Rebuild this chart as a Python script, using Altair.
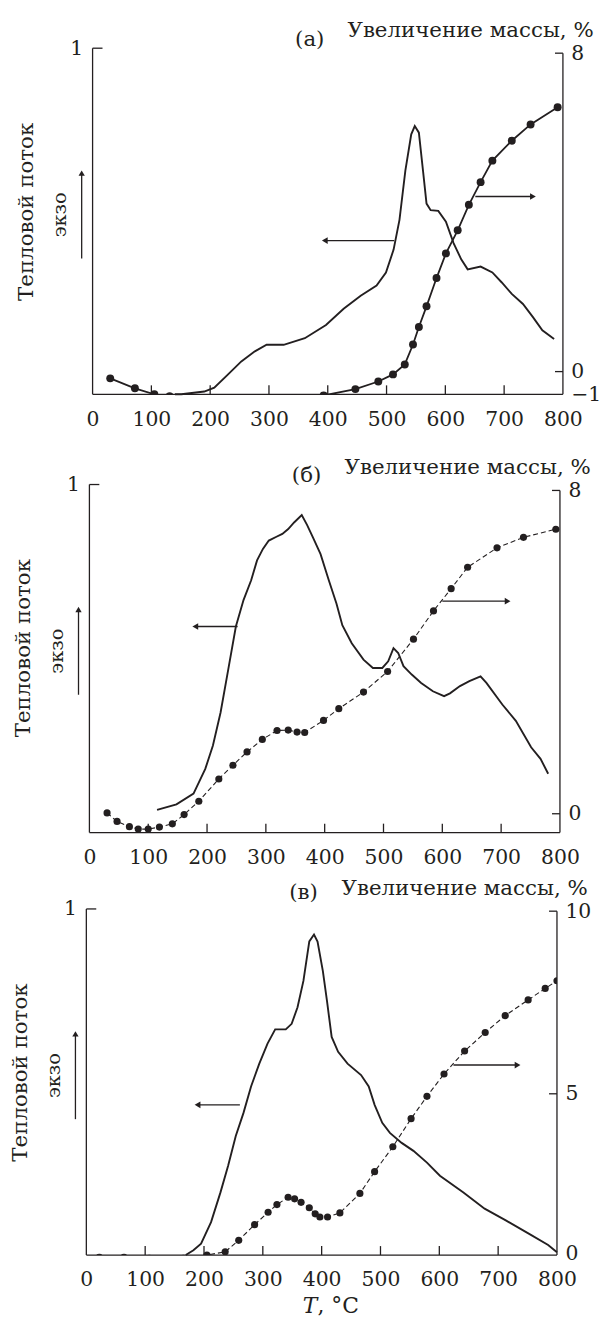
import altair as alt
import pandas as pd

FONT = "DejaVu Serif"
INK = "#231f20"
TICK_FS = 20.5
TITLE_FS = 21.5
EXO_FS = 19.5

X_LABELS = [0, 100, 200, 300, 400, 500, 600, 700, 800]
X_INNER = [100, 200, 300, 400, 500, 600, 700]

# ---------- panel (а) ----------
a_hf_T = [140, 151, 190, 207, 230, 253, 276, 296, 325, 361, 397, 427, 456, 483, 499, 512, 522,
          532, 542, 548, 555, 562, 568, 575, 588, 601, 614, 627, 638, 660, 680, 696, 713, 732,
          749, 765, 785]
a_hf_v = [0.0, 0.0, 0.008, 0.019, 0.057, 0.095, 0.124, 0.143, 0.143, 0.162, 0.2, 0.247, 0.285,
          0.314, 0.352, 0.418, 0.504, 0.646, 0.751, 0.775, 0.756, 0.646, 0.551, 0.532, 0.530,
          0.499, 0.437, 0.39, 0.361, 0.369, 0.352, 0.323, 0.29, 0.261, 0.223, 0.185, 0.16]
a_mg_T = [30, 72, 105, 131, 236, 279, 310, 343, 393, 447, 486, 511, 531, 545, 555, 568, 585,
          601, 621, 640, 660, 680, 713, 745, 791]
a_mg_v = [-0.17, -0.42, -0.57, -0.62, -0.68, -0.68, -0.68, -0.66, -0.6, -0.44, -0.25, -0.07,
          0.18, 0.68, 1.12, 1.64, 2.35, 2.97, 3.55, 4.19, 4.76, 5.30, 5.80, 6.21, 6.64]
a_arrow_hf = {"t1": [513], "t2": [395], "v": [0.444]}
a_arrow_mg = {"t1": [651], "t2": [749], "v": [4.40]}

# ---------- panel (б) ----------
b_hf_T = [115, 148, 177, 197, 210, 223, 236, 249, 262, 275, 285, 295, 305, 318, 328, 338, 348,
          361, 370, 380, 393, 407, 420, 430, 446, 466, 482, 498, 508, 517, 525, 534, 548, 564,
          584, 603, 613, 630, 646, 665, 675, 702, 725, 751, 767, 780]
b_hf_v = [0.065, 0.081, 0.112, 0.183, 0.25, 0.345, 0.468, 0.592, 0.668, 0.725, 0.782, 0.815,
          0.839, 0.85, 0.858, 0.872, 0.891, 0.912, 0.884, 0.848, 0.8, 0.725, 0.658, 0.596, 0.544,
          0.497, 0.473, 0.473, 0.492, 0.530, 0.516, 0.478, 0.454, 0.43, 0.406, 0.392, 0.4, 0.421,
          0.435, 0.449, 0.43, 0.368, 0.321, 0.245, 0.212, 0.169]
b_mg_T = [30, 47, 68, 83, 100, 119, 141, 161, 186, 220, 244, 268, 294, 319, 338, 353, 366, 398,
          424, 466, 507, 551, 585, 615, 643, 693, 738, 793]
b_mg_v = [0.02, -0.19, -0.32, -0.38, -0.38, -0.33, -0.25, -0.02, 0.31, 0.86, 1.20, 1.53, 1.84,
          2.06, 2.07, 2.02, 2.01, 2.31, 2.60, 3.01, 3.52, 4.32, 5.02, 5.57, 6.10, 6.58, 6.84, 7.04]
b_arrow_hf = {"t1": [252], "t2": [180], "v": [0.592]}
b_arrow_mg = {"t1": [600], "t2": [711], "v": [5.26]}

# ---------- panel (в) ----------
c_hf_T = [169, 182, 195, 212, 228, 241, 254, 267, 280, 294, 308, 321, 339, 349, 359, 369, 379,
          387, 393, 402, 409, 417, 428, 444, 467, 480, 490, 503, 516, 536, 556, 579, 601, 641,
          677, 713, 752, 785, 800]
c_hf_v = [0.0, 0.014, 0.033, 0.095, 0.181, 0.258, 0.344, 0.41, 0.487, 0.553, 0.611, 0.652,
          0.652, 0.668, 0.716, 0.792, 0.906, 0.926, 0.906, 0.821, 0.735, 0.63, 0.587, 0.553,
          0.52, 0.487, 0.434, 0.382, 0.353, 0.324, 0.301, 0.267, 0.229, 0.181, 0.134, 0.1,
          0.062, 0.029, 0.008]
c_mg_T = [22, 64, 107, 165, 205, 236, 259, 286, 309, 324, 343, 354, 365, 379, 389, 397, 410,
          431, 465, 490, 521, 552, 579, 608, 643, 678, 712, 751, 780, 800]
c_mg_v = [-0.12, -0.12, -0.15, -0.15, -0.05, 0.05, 0.41, 0.90, 1.29, 1.53, 1.76, 1.71, 1.60,
          1.43, 1.24, 1.14, 1.14, 1.27, 1.88, 2.56, 3.34, 4.22, 4.92, 5.62, 6.34, 6.92, 7.45,
          7.94, 8.30, 8.54]
c_arrow_hf = {"t1": [261], "t2": [189], "v": [0.434]}
c_arrow_mg = {"t1": [624], "t2": [733], "v": [5.9]}

RIGHT_TITLE = "Увеличение массы, %"
LEFT_TITLE = "Тепловой поток"
EXO = "экзо"


def text_layer(txt, x, y, **kw):
    return alt.Chart(pd.DataFrame({"t": [txt]})).mark_text(
        font=FONT, color=INK, **kw
    ).encode(text="t:N", x=alt.value(x), y=alt.value(y))


def build_panel(p):
    W, H, off, top = p["width"], p["height"], p["off"], p["top"]
    xs = alt.Scale(domain=[p["xmin"], 800], nice=False, zero=False)
    ly = alt.Scale(domain=p["ldom"], nice=False, zero=False)
    ry = alt.Scale(domain=p["rdom"], nice=False, zero=False)

    x_axis = alt.Axis(values=X_LABELS, labelFont=FONT, labelFontSize=TICK_FS, labelColor=INK,
                      ticks=False, domain=False, labelPadding=15, grid=False, title=None,
                      labelFlush=False, labelOverlap=False, format="d")
    left_axis = alt.Axis(values=[1], labelFont=FONT, labelFontSize=TICK_FS, labelColor=INK,
                         ticks=False, domain=False, labelPadding=10 - off, grid=False,
                         title=None, labelFlush=False, labelOverlap=False, format="d")
    raxis_kw = dict(orient="right", values=p["rvals"], labelFont=FONT, labelFontSize=TICK_FS,
                    labelColor=INK, ticks=False, domain=False, labelPadding=8, grid=False,
                    title=None, labelFlush=False, labelOverlap=False)
    if p.get("rexpr"):
        raxis_kw["labelExpr"] = p["rexpr"]
    right_axis = alt.Axis(**raxis_kw)

    def X(f):
        return alt.X(f, scale=xs, axis=x_axis)

    def YL(f):
        return alt.Y(f, scale=ly, axis=left_axis)

    def YR(f):
        return alt.Y(f, scale=ry, axis=right_axis)

    hf_df = pd.DataFrame({"T": p["hf_T"], "v": p["hf_v"]})
    mg_df = pd.DataFrame({"T": p["mg_T"], "v": p["mg_v"]})

    hf_line = alt.Chart(hf_df).mark_line(color=INK, strokeWidth=1.9).encode(
        x=X("T:Q"), y=YL("v:Q"))
    xline = alt.Chart(pd.DataFrame({"T": [0], "t2": [800], "v": [0]})).mark_rule(
        color=INK, strokeWidth=1.3).encode(x=X("T:Q"), x2="t2:Q", y=YL("v:Q"))
    lline = alt.Chart(pd.DataFrame({"T": [0], "v": [0], "v2": [1]})).mark_rule(
        color=INK, strokeWidth=1.3).encode(x=X("T:Q"), y=YL("v:Q"), y2="v2:Q")
    lt = alt.Chart(pd.DataFrame({"T": [0], "v": [1]})).mark_rule(
        color=INK, strokeWidth=1.3).encode(x=X("T:Q"), x2=alt.value(off + 10), y=YL("v:Q"))
    xt = alt.Chart(pd.DataFrame({"T": X_INNER})).mark_rule(color=INK, strokeWidth=1.3).encode(
        x=X("T:Q"), y=alt.value(H), y2=alt.value(H - 9))
    ahf = pd.DataFrame({"T": p["arrow_hf"]["t1"], "t2": p["arrow_hf"]["t2"],
                        "v": p["arrow_hf"]["v"]})
    ha = alt.Chart(ahf).mark_rule(color=INK, strokeWidth=1.4).encode(
        x=X("T:Q"), x2="t2:Q", y=YL("v:Q"))
    hh = alt.Chart(ahf).mark_point(shape="triangle-left", filled=True, size=45, opacity=1,
                                   color=INK, strokeWidth=0).encode(x=X("t2:Q"), y=YL("v:Q"))

    ax = off - 11
    exo_rule = alt.Chart(pd.DataFrame({"t": [0]})).mark_rule(color=INK, strokeWidth=1.3).encode(
        x=alt.value(ax), y=alt.value(top + 127), y2=alt.value(top + 212))
    exo_head = alt.Chart(pd.DataFrame({"t": [0]})).mark_point(
        shape="triangle-up", filled=True, size=40, opacity=1, color=INK, strokeWidth=0).encode(
        x=alt.value(ax), y=alt.value(top + 126))

    left_layers = [hf_line, xline, lline, lt, xt, ha, hh, exo_rule, exo_head,
                   text_layer(LEFT_TITLE, off - 66, top + 165, angle=270, fontSize=TITLE_FS,
                              align="center", baseline="middle"),
                   text_layer(EXO, off - 33, top + 168, angle=270, fontSize=EXO_FS,
                              align="center", baseline="middle"),
                   text_layer(RIGHT_TITLE, W + 31, top + p["title_dy"], fontSize=TITLE_FS,
                              align="right", baseline="middle"),
                   text_layer(p["letter"], off + 219, top + p["letter_dy"], fontSize=TITLE_FS,
                              align="center", baseline="middle")]
    if p.get("xtitle"):
        left_layers.append(text_layer("T", off + 233, H + 51, fontSize=22,
                                      fontStyle="italic", align="right", baseline="middle"))
        left_layers.append(text_layer(", °C", off + 233, H + 51, fontSize=22,
                                      align="left", baseline="middle"))

    line_kw = dict(color=INK, clip=True, strokeWidth=p["mg_w"])
    if p.get("dash"):
        line_kw["strokeDash"] = p["dash"]
    mg_line = alt.Chart(mg_df).mark_line(**line_kw).encode(x=X("T:Q"), y=YR("v:Q"))
    mg_pts = alt.Chart(mg_df).mark_circle(color=INK, size=p["psize"], opacity=1,
                                          clip=True).encode(x=X("T:Q"), y=YR("v:Q"))
    rline = alt.Chart(pd.DataFrame({"T": [800], "v": [p["rline"][0]], "v2": [p["rline"][1]]})
                      ).mark_rule(color=INK, strokeWidth=1.3).encode(
        x=X("T:Q"), y=YR("v:Q"), y2="v2:Q")
    rt = alt.Chart(pd.DataFrame({"v": p["rticks"]})).mark_rule(color=INK, strokeWidth=1.3).encode(
        y=YR("v:Q"), x=alt.value(W - 8), x2=alt.value(W))
    amg = pd.DataFrame({"T": p["arrow_mg"]["t1"], "t2": p["arrow_mg"]["t2"],
                        "v": p["arrow_mg"]["v"]})
    ma = alt.Chart(amg).mark_rule(color=INK, strokeWidth=1.4).encode(
        x=X("T:Q"), x2="t2:Q", y=YR("v:Q"))
    mh = alt.Chart(amg).mark_point(shape="triangle-right", filled=True, size=45, opacity=1,
                                   color=INK, strokeWidth=0).encode(x=X("t2:Q"), y=YR("v:Q"))
    right_layers = [mg_pts, mg_line, rline, rt, ma, mh]

    return alt.layer(alt.layer(*left_layers), alt.layer(*right_layers)).resolve_scale(
        y="independent").properties(width=W, height=H)


pa = build_panel(dict(width=480.6, height=349, xmin=-10.63, off=6.3, top=0,
                      ldom=[0, 1], rdom=[-0.57, 8.125], rline=[-0.57, 8],
                      rvals=[-0.57, 0, 8],
                      rexpr="datum.value < -0.1 ? '\u22121' : datum.value > 7 ? '8' : '0'",
                      rticks=[8, 0], hf_T=a_hf_T, hf_v=a_hf_v, mg_T=a_mg_T, mg_v=a_mg_v,
                      arrow_hf=a_arrow_hf, arrow_mg=a_arrow_mg, letter="(а)", letter_dy=-8,
                      title_dy=-17, mg_w=1.8, psize=64))
pb = build_panel(dict(width=477.6, height=365, xmin=-5.23, off=3.1, top=14,
                      ldom=[0, 1.0399], rdom=[-0.466, 8.49], rline=[-0.466, 8],
                      rvals=[0, 8], rexpr="datum.value > 7 ? '8' : '0'", rticks=[8, 0],
                      hf_T=b_hf_T, hf_v=b_hf_v, mg_T=b_mg_T, mg_v=b_mg_v,
                      arrow_hf=b_arrow_hf, arrow_mg=b_arrow_mg, letter="(б)", letter_dy=-9,
                      title_dy=-17, mg_w=1.1, dash=[5, 3], psize=52))
pc = build_panel(dict(width=474.6, height=349, xmin=0, off=0, top=0,
                      ldom=[0, 1], rdom=[-0.05, 10.79], rline=[-0.05, 10.72],
                      rvals=[0, 5, 10.72],
                      rexpr="datum.value > 10 ? '10' : datum.value > 4 ? '5' : '0'",
                      rticks=[10.72, 5], hf_T=c_hf_T, hf_v=c_hf_v, mg_T=c_mg_T, mg_v=c_mg_v,
                      arrow_hf=c_arrow_hf, arrow_mg=c_arrow_mg, letter="(в)", letter_dy=-16,
                      title_dy=-20, mg_w=1.1, dash=[5, 3], psize=52, xtitle=True))

chart = alt.vconcat(pa, pb, pc, spacing=77, bounds="flush").configure_view(
    stroke=None).properties(padding={"left": 2, "top": 7, "right": 0, "bottom": 0},
                            background="white")

chart.save("out.html", embed_options={"renderer": "svg", "actions": False})
